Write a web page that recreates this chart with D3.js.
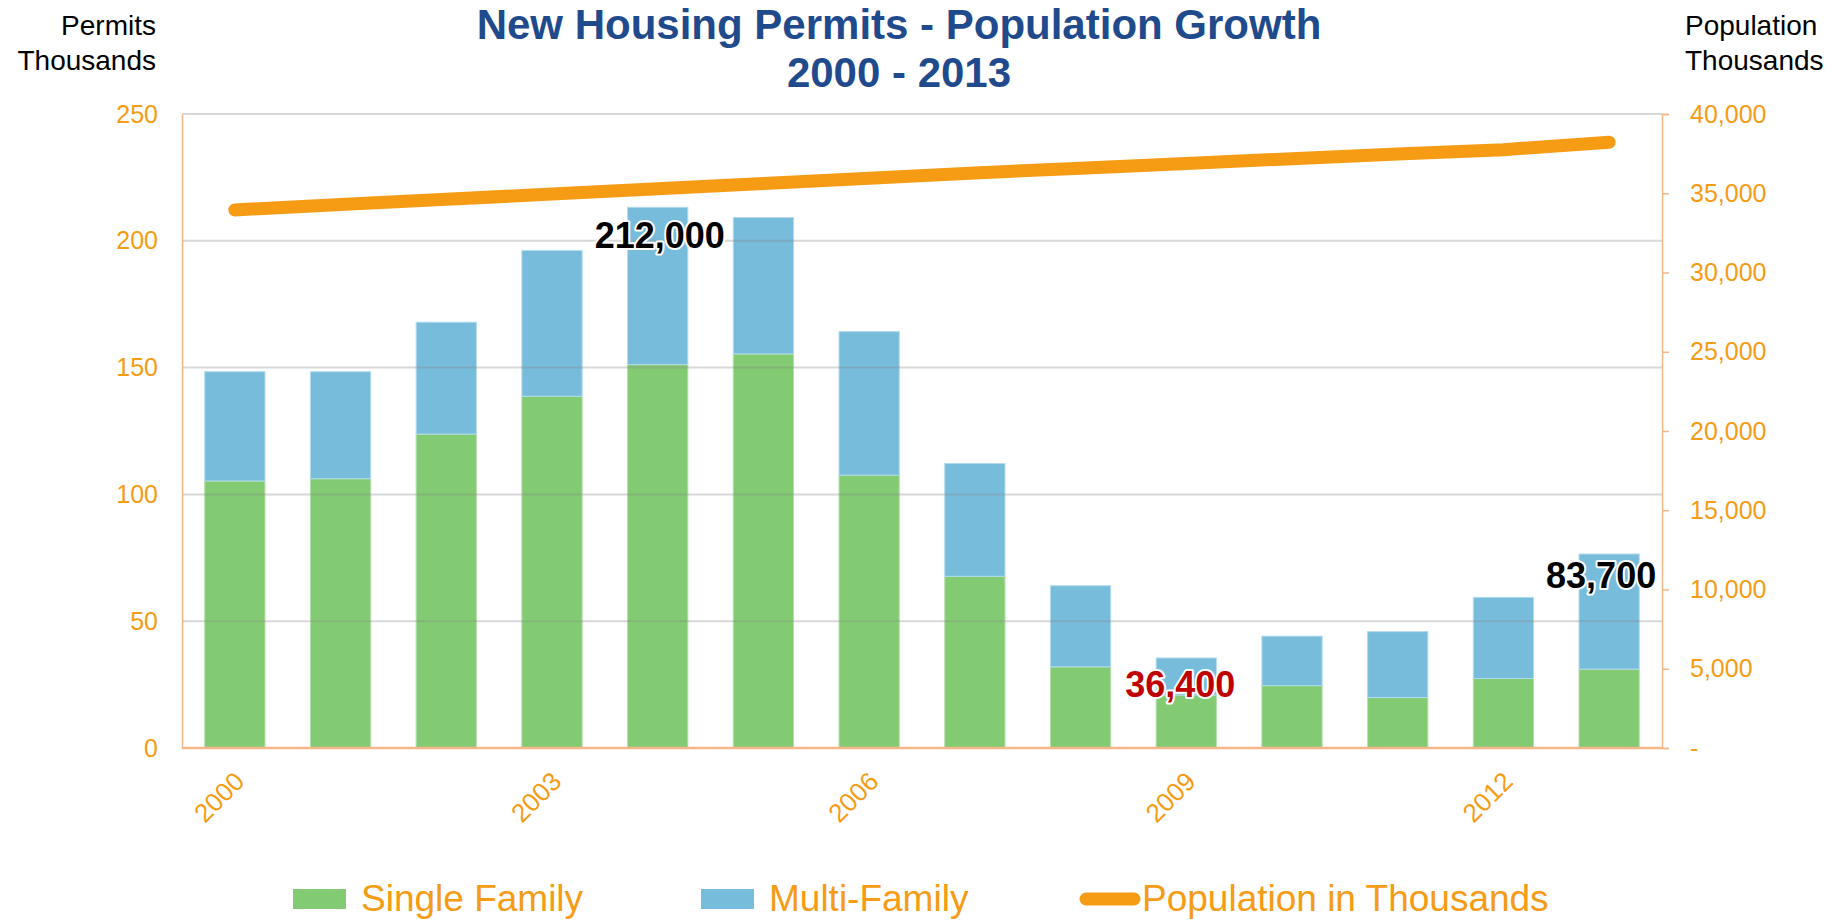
<!DOCTYPE html>
<html>
<head>
<meta charset="utf-8">
<script src="https://cdn.jsdelivr.net/npm/d3@7"></script>
<style>
  body { margin: 0; background: #fff; }
  svg { display: block; font-family: "Liberation Sans", Arial, sans-serif; }
</style>
</head>
<body>
<svg id="chart" width="1844" height="920"></svg>
<script>
// chart data
const years = [2000, 2001, 2002, 2003, 2004, 2005, 2006, 2007, 2008, 2009, 2010, 2011, 2012, 2013];
const singleFamily = [105.3, 106.2, 123.8, 138.7, 151.2, 155.4, 107.6, 67.7, 32.0, 20.9, 24.6, 19.9, 27.4, 31.1];
const multiFamily = [43.1, 42.2, 44.1, 57.5, 62.0, 53.8, 56.6, 44.5, 32.0, 14.6, 19.5, 26.0, 32.0, 45.4];
const population = [33950, 34290, 34620, 34950, 35280, 35620, 35950, 36280, 36580, 36880, 37180, 37470, 37750, 38220];
const yearLabels = [2000, 2003, 2006, 2009, 2012];
const leftTicks = [0, 50, 100, 150, 200, 250];
const rightTicks = [0, 5000, 10000, 15000, 20000, 25000, 30000, 35000, 40000];
const callouts = [
  { year: 2004, text: "212,000", color: "#000", dx: 2, y: 248 },
  { year: 2009, text: "36,400", color: "#c00000", dx: -6, y: 697 },
  { year: 2013, text: "83,700", color: "#000", dx: -8, y: 588 }
];

const ORANGE = "#f59b14";
const AXIS_ORANGE = "#f5b789";
const GREEN = "#82cb72";
const BLUE = "#78bcdb";

const svg = d3.select("#chart");
const plotLeft = 182, plotRight = 1662, plotTop = 114, plotBottom = 748;

const x = d3.scaleBand().domain(years).range([plotLeft, plotRight]).paddingInner(0.43).paddingOuter(0.215);
const yL = d3.scaleLinear().domain([0, 250]).range([plotBottom, plotTop]);
const yR = d3.scaleLinear().domain([0, 40000]).range([plotBottom, plotTop]);

// title
const title = svg.append("text")
  .attr("text-anchor", "middle")
  .attr("font-weight", "bold").attr("font-size", 42).attr("fill", "#1f4a8c");
title.append("tspan").attr("x", 899).attr("y", 39).text("New Housing Permits - Population Growth");
title.append("tspan").attr("x", 899).attr("y", 87).text("2000 - 2013");

// axis titles
const lt = svg.append("text").attr("text-anchor", "end").attr("font-size", 28).attr("fill", "#000");
lt.append("tspan").attr("x", 156).attr("y", 35).text("Permits");
lt.append("tspan").attr("x", 156).attr("y", 70).text("Thousands");
const rt = svg.append("text").attr("text-anchor", "start").attr("font-size", 28).attr("fill", "#000");
rt.append("tspan").attr("x", 1685).attr("y", 35).text("Population");
rt.append("tspan").attr("x", 1685).attr("y", 70).text("Thousands");

// stacked bars
const stackData = years.map((yr, i) => ({ year: yr, single: singleFamily[i], multi: multiFamily[i] }));
const series = d3.stack().keys(["single", "multi"])(stackData);
const colors = { single: GREEN, multi: BLUE };

svg.append("g").selectAll("g").data(series).join("g")
  .attr("fill", d => colors[d.key])
  .attr("stroke", d => d.key === "single" ? "#b5e0aa" : "#b2dcef")
  .attr("stroke-width", 1)
  .selectAll("rect").data(d => d).join("rect")
  .attr("x", d => x(d.data.year))
  .attr("width", x.bandwidth())
  .attr("y", d => yL(d[1]))
  .attr("height", d => yL(d[0]) - yL(d[1]));

// gridlines (drawn over the bars, semi-transparent)
svg.append("g").selectAll("line").data(leftTicks.filter(t => t > 0)).join("line")
  .attr("x1", plotLeft).attr("x2", plotRight)
  .attr("y1", d => yL(d)).attr("y2", d => yL(d))
  .attr("stroke", "#8a8a8a").attr("stroke-opacity", 0.33).attr("stroke-width", 2);

// left axis
const axL = svg.append("g").attr("transform", `translate(${plotLeft},0)`)
  .call(d3.axisLeft(yL).tickValues(leftTicks).tickSize(0).tickPadding(24));
axL.select(".domain").attr("stroke", AXIS_ORANGE).attr("stroke-width", 1.5);
axL.selectAll("text").attr("font-size", 25).attr("fill", ORANGE).attr("font-family", "Liberation Sans, Arial, sans-serif");

// right axis
const axR = svg.append("g").attr("transform", `translate(${plotRight},0)`)
  .call(d3.axisRight(yR).tickValues(rightTicks).tickSize(7).tickPadding(21)
    .tickFormat(d => d === 0 ? "-" : d3.format(",")(d)));
axR.select(".domain").attr("stroke", AXIS_ORANGE).attr("stroke-width", 1.5);
axR.selectAll(".tick line").attr("stroke", AXIS_ORANGE).attr("stroke-width", 1.5);
axR.selectAll("text").attr("font-size", 25).attr("fill", ORANGE).attr("font-family", "Liberation Sans, Arial, sans-serif");

// bottom axis line
svg.append("line")
  .attr("x1", plotLeft).attr("x2", plotRight).attr("y1", plotBottom).attr("y2", plotBottom)
  .attr("stroke", AXIS_ORANGE).attr("stroke-width", 2.5);

// year labels, rotated
svg.append("g").selectAll("text").data(yearLabels).join("text")
  .attr("transform", d => `translate(${x(d) + x.bandwidth() / 2 + 11},${plotBottom + 35}) rotate(-45)`)
  .attr("text-anchor", "end")
  .attr("font-size", 26).attr("fill", ORANGE)
  .text(d => d);

// population line
const line = d3.line()
  .x((d, i) => x(years[i]) + x.bandwidth() / 2)
  .y(d => yR(d));
svg.append("path").datum(population)
  .attr("d", line)
  .attr("fill", "none").attr("stroke", ORANGE)
  .attr("stroke-width", 13).attr("stroke-linecap", "round").attr("stroke-linejoin", "round");

// callout labels
svg.append("g").selectAll("text").data(callouts).join("text")
  .attr("x", d => x(d.year) + x.bandwidth() / 2 + d.dx)
  .attr("y", d => d.y)
  .attr("text-anchor", "middle")
  .attr("font-weight", "bold").attr("font-size", 36)
  .attr("fill", d => d.color)
  .attr("stroke", "#fff").attr("stroke-width", 4).attr("paint-order", "stroke")
  .attr("stroke-linejoin", "round")
  .text(d => d.text);

// legend
const legend = svg.append("g");
const legendItems = [
  { label: "Single Family", type: "rect", color: GREEN, x: 293 },
  { label: "Multi-Family", type: "rect", color: BLUE, x: 701 },
  { label: "Population in Thousands", type: "line", color: ORANGE, x: 1080 }
];
legendItems.forEach(it => {
  if (it.type === "rect") {
    legend.append("rect").attr("x", it.x).attr("y", 889).attr("width", 53).attr("height", 20).attr("fill", it.color);
    legend.append("text").attr("x", it.x + 68).attr("y", 911).attr("font-size", 37).attr("fill", ORANGE).text(it.label);
  } else {
    legend.append("line").attr("x1", it.x + 6).attr("x2", it.x + 54).attr("y1", 899).attr("y2", 899)
      .attr("stroke", it.color).attr("stroke-width", 13).attr("stroke-linecap", "round");
    legend.append("text").attr("x", it.x + 62).attr("y", 911).attr("font-size", 37).attr("fill", ORANGE).text(it.label);
  }
});
</script>
</body>
</html>
